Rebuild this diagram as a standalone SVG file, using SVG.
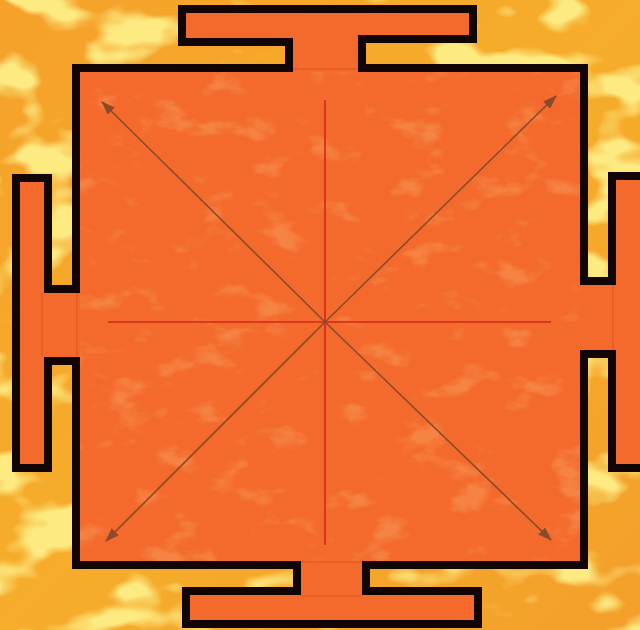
<svg xmlns="http://www.w3.org/2000/svg" width="640" height="630" viewBox="0 0 640 630">
  <defs>
    <style>
      .outline { fill: #f36a2c; stroke: #120505; stroke-width: 8; stroke-linejoin: miter; }
      .seam { stroke: #e0461f; stroke-width: 1; fill: none; opacity: 0.7; }
      .axis { stroke: #d4261c; stroke-width: 1.6; fill: none; }
      .diag { stroke: #8a4a2c; stroke-width: 1.6; fill: none; marker-end: url(#head); }
    </style>
    <marker id="head" viewBox="0 0 14 10" refX="13" refY="5" markerWidth="14" markerHeight="10" markerUnits="userSpaceOnUse" orient="auto">
      <path d="M0,0 L14,5 L0,10 Z" fill="#8a4a2c"/>
    </marker>
    <filter id="batik" x="0" y="0" width="100%" height="100%">
      <feTurbulence type="fractalNoise" baseFrequency="0.012 0.02" numOctaves="3" seed="7" result="n"/>
      <feColorMatrix in="n" type="matrix" values="0 0 0 0 0.98  0 0 0 0 0.82  0 0 0 0 0.22  0 0 0 7 -3.7" result="c"/>
      <feComposite in="c" in2="SourceGraphic" operator="in"/>
    </filter>
    <filter id="mottle" x="0" y="0" width="100%" height="100%">
      <feTurbulence type="fractalNoise" baseFrequency="0.02 0.035" numOctaves="4" seed="3" result="n"/>
      <feColorMatrix in="n" type="matrix" values="0 0 0 0 0.97  0 0 0 0 0.52  0 0 0 0 0.20  0 0 0 5 -2.9" result="c"/>
      <feComposite in="c" in2="SourceGraphic" operator="in"/>
    </filter>
    <linearGradient id="bg" x1="0" y1="0" x2="1" y2="1">
      <stop offset="0" stop-color="#f5a12a"/>
      <stop offset="0.5" stop-color="#f6ad2a"/>
      <stop offset="1" stop-color="#f39f2a"/>
    </linearGradient>
  </defs>

  <g id="background">
    <rect x="0" y="0" width="640" height="630" fill="url(#bg)"/>
    <rect x="0" y="0" width="640" height="630" fill="#fff" filter="url(#batik)"/>
  </g>

  <g id="yantra">
    <path class="outline" d="M76,68 L289,68 L289,42 L182,42 L182,9 L473,9 L473,39 L362,39 L362,68 L584,68 L584,281 L612,281 L612,176 L652,176 L652,468 L612,468 L612,354 L584,354 L584,565 L366,565 L366,591 L478,591 L478,624 L186,624 L186,591 L297,591 L297,565 L76,565 L76,361 L48,361 L48,468 L16,468 L16,178 L48,178 L48,289 L76,289 Z"/>
    <rect x="80" y="72" width="500" height="489" fill="#fff" filter="url(#mottle)" opacity="0.3"/>
    <g id="seams">
      <line class="seam" x1="293" y1="69" x2="358" y2="69"/>
      <line class="seam" x1="42" y1="293" x2="42" y2="357"/>
      <line class="seam" x1="77" y1="293" x2="77" y2="357"/>
      <line class="seam" x1="613" y1="285" x2="613" y2="350"/>
      <line class="seam" x1="301" y1="562" x2="362" y2="562"/>
      <line class="seam" x1="301" y1="596" x2="362" y2="596"/>
    </g>
  </g>

  <g id="connectors">
    <line class="axis" x1="325" y1="100" x2="325" y2="545"/>
    <line class="axis" x1="108" y1="322" x2="551" y2="322"/>
    <line class="diag" x1="325" y1="322" x2="102" y2="102"/>
    <line class="diag" x1="325" y1="322" x2="556" y2="96"/>
    <line class="diag" x1="325" y1="322" x2="106" y2="541"/>
    <line class="diag" x1="325" y1="322" x2="551" y2="540"/>
  </g>
</svg>
